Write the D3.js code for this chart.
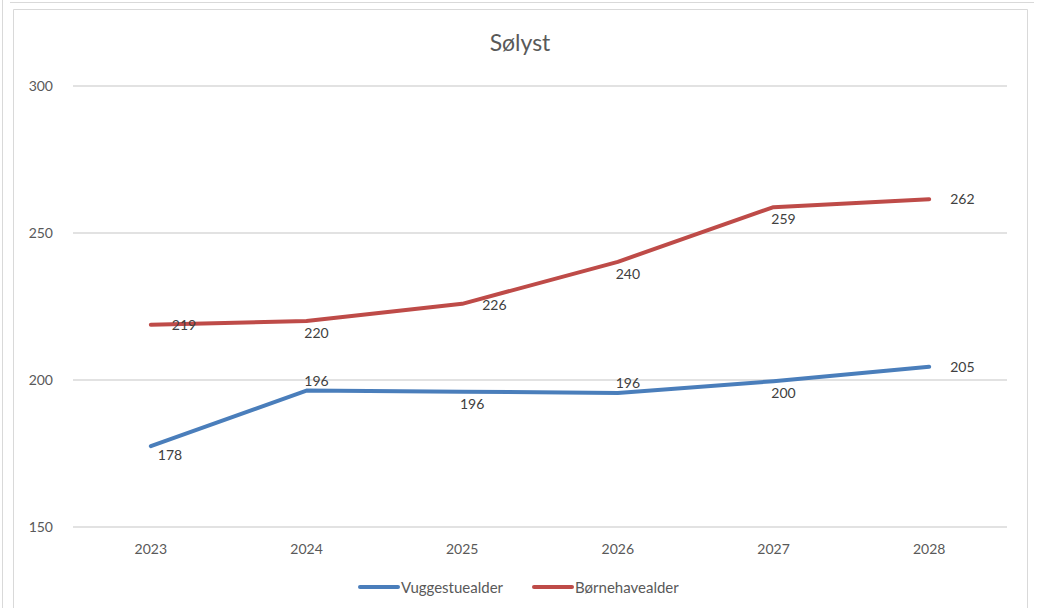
<!DOCTYPE html>
<html>
<head>
<meta charset="utf-8">
<script src="https://cdn.jsdelivr.net/npm/d3@7"></script>
<style>
  body { margin: 0; background: #fff; }
  svg { display: block; font-family: Lato, "Open Sans", sans-serif; }
</style>
</head>
<body>
<script>
// data
var years = ['2023', '2024', '2025', '2026', '2027', '2028'];
var vuggestue = [177.5, 196.4, 196.0, 195.6, 199.6, 204.5];
var boernehave = [218.8, 220.1, 225.9, 240.2, 258.8, 261.5];
var seriesNames = ['Vuggestuealder', 'Børnehavealder'];
var yTicks = [150, 200, 250, 300];

// where Excel put each data label
var vugLabelPos = ['belowRight', 'above', 'below', 'above', 'below', 'right'];
var boeLabelPos = ['right', 'below', 'belowRight', 'below', 'below', 'right'];

var W = 1038, H = 608;
var margin = {top: 86, right: 31, bottom: 81, left: 73},
    width = W - margin.left - margin.right,
    height = H - margin.top - margin.bottom;

var svg = d3.select('body').append('svg')
    .attr('width', W)
    .attr('height', H);

// frame bits from the screenshot
svg.append('line').attr('x1', 2.5).attr('x2', 2.5).attr('y1', 0).attr('y2', H)
    .attr('stroke', '#d9d9d9');
svg.append('line').attr('x1', 10).attr('x2', 1034).attr('y1', 2.5).attr('y2', 2.5)
    .attr('stroke', '#d9d9d9');
svg.append('path').attr('d', 'M13.5,' + H + 'V9.5H1027.5V' + H)
    .attr('fill', 'none').attr('stroke', '#d9d9d9');

var g = svg.append('g')
    .attr('transform', 'translate(' + margin.left + ',' + margin.top + ')');

var x = d3.scaleBand().domain(years).range([0, width]);
var y = d3.scaleLinear().domain([150, 300]).range([height, 0]);
var cx = function(d) { return x(d) + x.bandwidth() / 2; };

// gridlines
g.selectAll('.grid').data(yTicks).enter().append('line')
    .attr('x1', 0).attr('x2', width)
    .attr('y1', function(d) { return y(d); })
    .attr('y2', function(d) { return y(d); })
    .attr('stroke', '#d9d9d9').attr('stroke-width', 1.3);

// y axis labels
var yAxis = g.append('g').call(d3.axisLeft(y).tickValues(yTicks).tickSize(0).tickPadding(20));
yAxis.select('.domain').remove();
yAxis.selectAll('text').attr('font-size', 14).attr('fill', '#595959')
    .attr('font-family', 'Lato, sans-serif');

// x axis labels
var xAxis = g.append('g').attr('transform', 'translate(0,' + height + ')')
    .call(d3.axisBottom(x).tickSize(0).tickPadding(17));
xAxis.select('.domain').remove();
xAxis.selectAll('text').attr('font-size', 14).attr('fill', '#595959')
    .attr('font-family', 'Lato, sans-serif');

// title
svg.append('text').attr('x', 520).attr('y', 51)
    .attr('text-anchor', 'middle').attr('font-size', 23).attr('fill', '#595959')
    .text('Sølyst');

var colors = ['#4a7ebb', '#be4b48'];
var series = [vuggestue, boernehave];
var labelPos = [vugLabelPos, boeLabelPos];

var line = d3.line()
    .x(function(d, i) { return cx(years[i]); })
    .y(function(d) { return y(d); });

series.forEach(function(vals, s) {
  g.append('path').datum(vals)
      .attr('fill', 'none')
      .attr('stroke', colors[s])
      .attr('stroke-width', 4)
      .attr('stroke-linecap', 'round')
      .attr('stroke-linejoin', 'round')
      .attr('d', line);
});

// data labels
series.forEach(function(vals, s) {
  g.selectAll('.lbl' + s).data(vals).enter().append('text')
      .attr('font-size', 14).attr('fill', '#404040')
      .attr('text-anchor', function(d, i) {
        var p = labelPos[s][i];
        return (p === 'right' || p === 'belowRight') ? 'start' : 'middle';
      })
      .attr('x', function(d, i) {
        var p = labelPos[s][i];
        if (p === 'right') return cx(years[i]) + 21;
        if (p === 'belowRight') return cx(years[i]) + (s === 0 ? 7 : 20);
        return cx(years[i]) + 10;
      })
      .attr('y', function(d, i) {
        var p = labelPos[s][i];
        if (p === 'above') return y(d) - 5;
        if (p === 'below') return y(d) + 17;
        if (p === 'belowRight' && s === 0) return y(d) + 14;
        if (p === 'belowRight') return y(d) + 6;
        return y(d) + 5;
      })
      .text(function(d) { return Math.round(d); });
});

// legend
var legend = svg.append('g').attr('transform', 'translate(360,587)');
var legX = [0, 174];
seriesNames.forEach(function(name, s) {
  legend.append('line').attr('x1', legX[s]).attr('x2', legX[s] + 38)
      .attr('y1', 0).attr('y2', 0)
      .attr('stroke', colors[s]).attr('stroke-width', 4).attr('stroke-linecap', 'round');
  legend.append('text').attr('x', legX[s] + 41).attr('y', 5.5)
      .attr('font-size', 15).attr('fill', '#595959').text(name);
});
</script>
</body>
</html>
